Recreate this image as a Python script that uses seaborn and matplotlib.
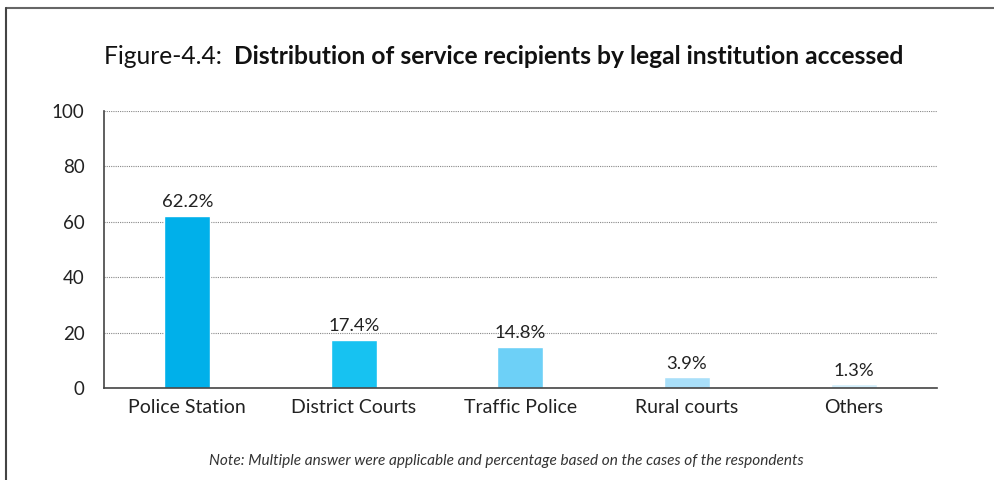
import matplotlib
matplotlib.use("Agg")
import matplotlib.pyplot as plt
from matplotlib.lines import Line2D
import seaborn as sns
import pandas as pd

categories = ["Police Station", "District Courts", "Traffic Police", "Rural courts", "Others"]
values = [62.2, 17.4, 14.8, 3.9, 1.3]
value_labels = ["62.2%", "17.4%", "14.8%", "3.9%", "1.3%"]
bar_colors = ["#00B0EA", "#17C2F1", "#6DD0F7", "#A9DFF9", "#D2EEFB"]
y_ticks = [0, 20, 40, 60, 80, 100]

sns.set_style("white")
plt.rcParams["font.family"] = ["Lato", "DejaVu Sans"]

df = pd.DataFrame({"category": categories, "value": values})

fig = plt.figure(figsize=(9.95, 4.80), dpi=100)
ax = fig.add_axes([0.1045, 0.1917, 0.8372, 0.5773])

sns.barplot(data=df, x="category", y="value", hue="category",
            palette=bar_colors, width=0.276, legend=False, ax=ax,
            saturation=1.0)

ax.set_ylim(0, 100)
ax.set_xlim(-0.5, len(categories) - 0.5)
ax.set_yticks(y_ticks)
ax.set_yticklabels([str(t) for t in y_ticks], fontsize=13.5, color="#222222")
ax.set_xlabel("")
ax.set_ylabel("")
ax.tick_params(axis="x", which="major", length=0, labelsize=14,
               labelcolor="#222222", pad=8)
ax.tick_params(axis="y", length=0, pad=14)

# category separators on the x axis
ax.set_xticks([i - 0.5 for i in range(len(categories) + 1)], minor=True)
ax.tick_params(axis="x", which="minor", direction="in", length=6,
               width=1, color="#444444")

ax.yaxis.grid(True, linestyle=(0, (1, 1)), color="#888888", linewidth=0.8)
ax.set_axisbelow(True)
for side in ["top", "right"]:
    ax.spines[side].set_visible(False)
for side in ["left", "bottom"]:
    ax.spines[side].set_color("#444444")
    ax.spines[side].set_linewidth(1.2)

for i, (v, lab) in enumerate(zip(values, value_labels)):
    ax.annotate(lab, (i, v), xytext=(0, 4), textcoords="offset points",
                ha="center", va="bottom", fontsize=13.3, color="#222222")

# title: plain prefix followed by bold text
renderer = fig.canvas.get_renderer()
t1 = fig.text(104 / 995, 1 - 57 / 480, "Figure-4.4:  ", fontsize=17.75,
              ha="left", va="center", color="#111111")
bb = t1.get_window_extent(renderer=renderer)
fig.text(bb.x1 / fig.bbox.width, 1 - 57 / 480,
         "Distribution of service recipients by legal institution accessed",
         fontsize=17.75, fontweight="bold", ha="left", va="center", color="#111111")

fig.text(506 / 995, 1 - 461 / 480,
         "Note: Multiple answer were applicable and percentage based on the cases of the respondents",
         fontsize=11.1, style="italic", ha="center", va="center", color="#333333")

# page frame
fig.add_artist(Line2D([6 / 995, 1.0], [1 - 8 / 480, 1 - 8 / 480],
                      transform=fig.transFigure, color="#666666", linewidth=1.5))
fig.add_artist(Line2D([6 / 995, 6 / 995], [0, 1 - 8 / 480],
                      transform=fig.transFigure, color="#444444", linewidth=1.5))

fig.savefig("out.png", dpi=100)
